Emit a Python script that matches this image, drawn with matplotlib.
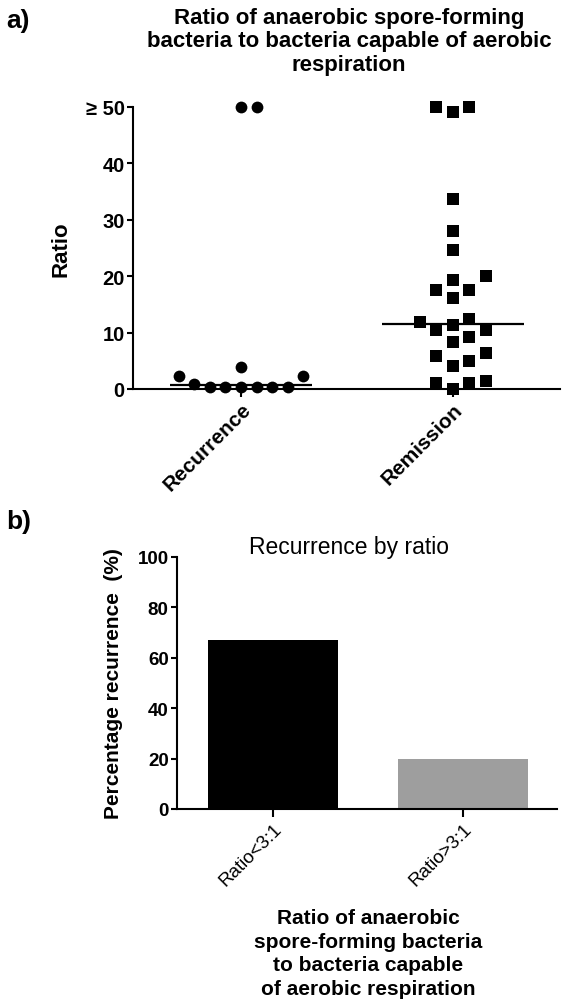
import matplotlib.pyplot as plt
import numpy as np

plt.rcParams['font.family'] = ['Liberation Sans', 'DejaVu Sans']

# panel a: ratio per patient
groups = ['Recurrence', 'Remission']
recurrence = [50, 50, 3.9, 2.3, 2.3, 0.9, 0.4, 0.4, 0.4, 0.4, 0.4, 0.4]
remission = [50, 49.1, 50, 33.7, 28.0, 24.6, 20.0, 19.3, 17.5, 17.5, 16.1,
             11.9, 12.4, 11.3, 10.5, 10.5, 9.3, 8.3, 6.4, 5.8, 5.0, 4.0,
             1.0, 1.4, 1.0, 0.0]
ratio_ticks = [0, 10, 20, 30, 40, 50]
ratio_ticklabels = ['0', '10', '20', '30', '40', '\u2265 50']

# panel b: recurrence by ratio
bar_labels = ['Ratio<3:1', 'Ratio>3:1']
bar_values = [67, 20]
bar_colors = ['black', '#9e9e9e']
pct_ticks = [0, 20, 40, 60, 80, 100]


def swarm_x(ax, x0, values, gap_px):
    # simple greedy beeswarm in pixel space, lowest values first
    pts = ax.transData.transform([(x0, v) for v in values])
    order = np.argsort(values, kind='stable')
    step = gap_px / 2
    placed = []
    offs = np.zeros(len(values))
    for i in order:
        py = pts[i, 1]
        k = 0
        while True:
            dx = step * ((k + 1) // 2) * (1 if k % 2 else -1)
            if all(np.hypot(dx - qx, py - qy) >= gap_px - 1e-6 for qx, qy in placed):
                break
            k += 1
        placed.append((dx, py))
        offs[i] = dx
    xy = np.column_stack([pts[:, 0] + offs, pts[:, 1]])
    return ax.transData.inverted().transform(xy)[:, 0]


fig = plt.figure(figsize=(5.66, 10.03), dpi=100)
W, H = 566, 1003

# ---- panel a ----
ax1 = fig.add_axes([133 / W, 1 - 390 / H, (560 - 133) / W, (390 - 108) / H])
ax1.set_xlim(-0.51, 1.505)
ax1.set_ylim(0, 50)

for i, (vals, mk) in enumerate([(recurrence, 'o'), (remission, 's')]):
    xs = swarm_x(ax1, i, vals, 15.6 if mk == 'o' else 16.5)
    ax1.scatter(xs, vals, marker=mk, s=72 if mk == 'o' else 66, color='black',
                zorder=3, clip_on=False, linewidths=0)
    med = np.median(vals)
    ax1.plot([i - 0.335, i + 0.335], [med, med], color='black', lw=1.6,
             zorder=2, solid_capstyle='butt')

ax1.set_xticks([0, 1])
ax1.set_xticklabels(groups, rotation=45, ha='right', va='top',
                    rotation_mode='anchor', fontsize=15, fontweight='bold')
ax1.set_yticks(ratio_ticks)
ax1.set_yticklabels(ratio_ticklabels, fontsize=14.5, fontweight='bold')
ax1.set_ylabel('Ratio', fontsize=16, fontweight='bold')
ax1.yaxis.set_label_coords(-0.143, 0.5)
ax1.spines[['top', 'right']].set_visible(False)

# ---- panel b ----
ax2 = fig.add_axes([177 / W, 1 - 810 / H, (557 - 177) / W, (810 - 558) / H])
ax2.bar(range(len(bar_values)), bar_values, width=0.685, color=bar_colors,
        zorder=2)
ax2.set_xlim(-0.505, 1.495)
ax2.set_ylim(0, 100)
ax2.set_xticks(range(len(bar_labels)))
ax2.set_xticklabels(bar_labels, rotation=45, ha='right', va='top',
                    rotation_mode='anchor', fontsize=13.5)
ax2.set_yticks(pct_ticks)
ax2.set_yticklabels([str(t) for t in pct_ticks], fontsize=13.5,
                    fontweight='bold')
ax2.set_ylabel('Percentage recurrence  (%)', fontsize=15, fontweight='bold')
ax2.yaxis.set_label_coords(-0.142, 0.5)
ax2.spines[['top', 'right']].set_visible(False)

for ax in [ax1, ax2]:
    for s in ['left', 'bottom']:
        ax.spines[s].set_linewidth(1.5)
    ax.tick_params(axis='y', length=4, width=1.5, pad=2)
    ax.tick_params(axis='x', length=5.5, width=1.5, pad=2)

# titles and panel letters
fig.text(6 / W, 1 - 21 / H, 'a)', fontsize=19, fontweight='bold', va='center')
fig.text(349 / W, 1 - 42 / H,
         'Ratio of anaerobic spore-forming\nbacteria to bacteria capable of aerobic\nrespiration',
         ha='center', va='center', fontsize=16, fontweight='bold',
         linespacing=1.17)
fig.text(6 / W, 1 - 522 / H, 'b)', fontsize=19, fontweight='bold', va='center')
fig.text(349 / W, 1 - 548 / H, 'Recurrence by ratio', ha='center',
         va='center', fontsize=16.5)
fig.text(368 / W, 1 - 954 / H,
         'Ratio of anaerobic\nspore-forming bacteria\nto bacteria capable\nof aerobic respiration',
         ha='center', va='center', fontsize=15, fontweight='bold',
         linespacing=1.3)

fig.savefig('out.png', dpi=100)
